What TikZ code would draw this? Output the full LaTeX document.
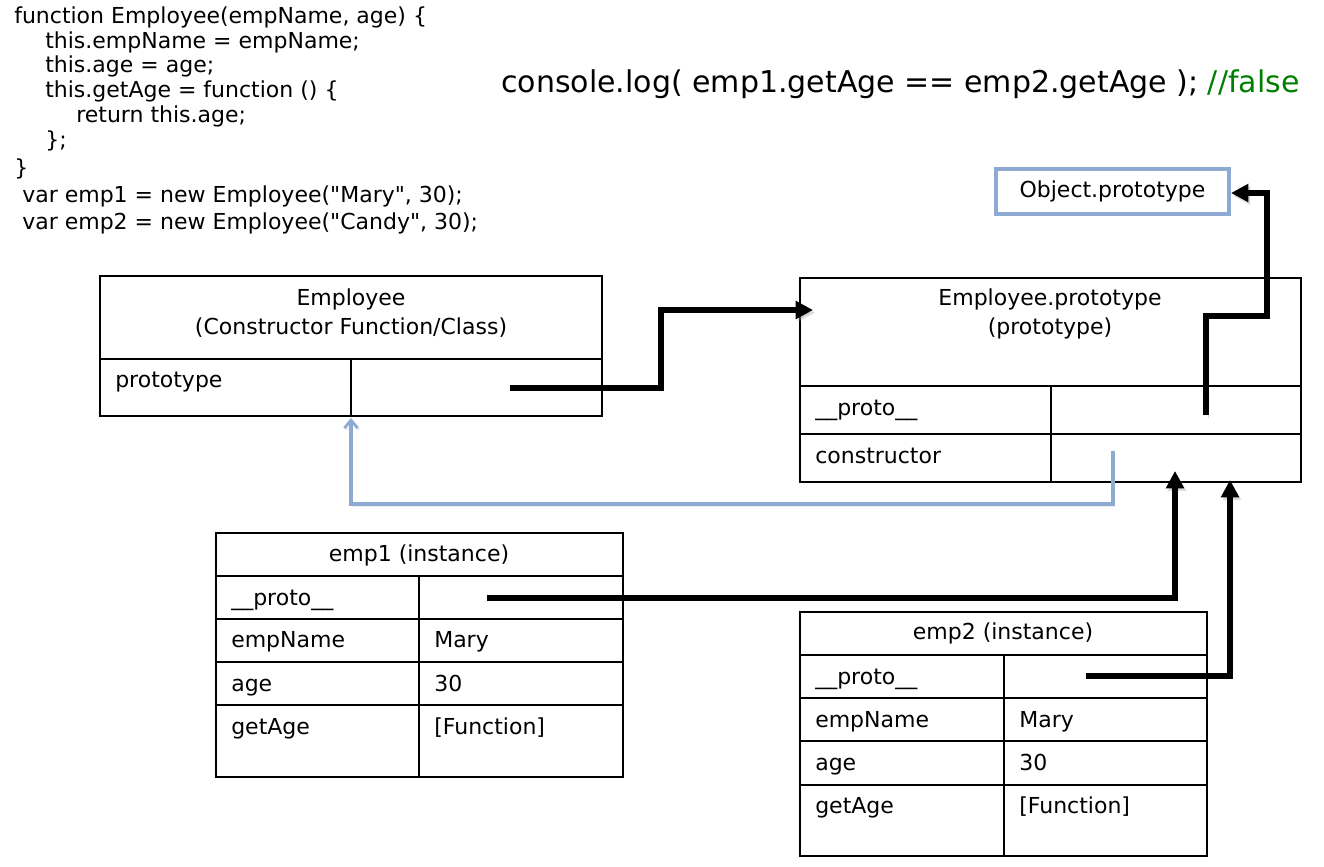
\documentclass[tikz,border=0pt]{standalone}
\usepackage{fontspec}
\setmainfont{DejaVu Sans}[Ligatures=TeXOff]
\usetikzlibrary{fit,arrows.meta}
\definecolor{lblue}{RGB}{142,170,210}
\definecolor{jsgreen}{RGB}{0,128,0}
\begin{document}
\begin{tikzpicture}[x=0.75pt,y=-0.75pt,
  txt/.style={inner sep=0pt, font=\fontsize{16.5}{19}\selectfont, text height=12pt, text depth=3.5pt},
  code/.style={txt, anchor=west},
  cell/.style={draw, line width=1.1pt, inner sep=0pt},
  objbox/.style={draw=lblue, line width=2.3pt, inner sep=0pt},
  blk/.style={line width=3.8pt, -{Triangle[length=13pt,width=13pt]},
    preaction={draw=black!40, opacity=0.35, transform canvas={shift={(1.5pt,-2pt)}}}},
  blu/.style={draw=lblue, line width=2.3pt, -{Straight Barb[length=6pt,width=10pt,line width=2pt]},
    preaction={draw=black!30, opacity=0.25, transform canvas={shift={(1pt,-1.5pt)}}}}
]
\useasboundingbox (0,0) rectangle (1324,867);

% code
\node[code] (c1) at (14,18) {function Employee(empName, age) \{};
\node[code] (c2) at (45,43) {this.empName = empName;};
\node[code] (c3) at (45,67) {this.age = age;};
\node[code] (c4) at (45,92) {this.getAge = function () \{};
\node[code] (c5) at (76,117) {return this.age;};
\node[code] (c6) at (45,142) {\};};
\node[code] (c7) at (14,170) {\}};
\node[code] (c8) at (22,197) {var emp1 = new Employee("Mary", 30);};
\node[code] (c9) at (22,224) {var emp2 = new Employee("Candy", 30);};

\node[inner sep=0pt, anchor=west, font=\fontsize{22.5}{26}\selectfont, text height=16pt, text depth=5pt] (cons) at (501,85)
  {console.log( emp1.getAge == emp2.getAge ); \textcolor{jsgreen}{//false}};

% Object.prototype
\node[objbox, fit={(996,169)(1229,214)}] (obj) {};
\node[txt] (objt) at (obj.center) {Object.prototype};

% Employee constructor
\node[cell, fit={(100,276)(602,359)}] (emph) {};
\node[cell, fit={(100,359)(351,416)}] (empl) {};
\node[cell, fit={(351,359)(602,416)}] (empr) {};
\node[txt] (empt1) at (351,300) {Employee};
\node[txt] (empt2) at (351,329) {(Constructor Function/Class)};
\node[code] (empp) at (115,382) {prototype};

% Employee.prototype
\node[cell, fit={(800,278)(1301,386)}] (proh) {};
\node[cell, fit={(800,386)(1051,434)}] (pro1l) {};
\node[cell, fit={(1051,386)(1301,434)}] (pro1r) {};
\node[cell, fit={(800,434)(1051,482)}] (pro2l) {};
\node[cell, fit={(1051,434)(1301,482)}] (pro2r) {};
\node[txt] (prot1) at (1050,300) {Employee.prototype};
\node[txt] (prot2) at (1050,329) {(prototype)};
\node[code] (prop1) at (815,410) {\_\_proto\_\_};
\node[code] (prop2) at (815,458) {constructor};

% emp1
\node[cell, fit={(216,533)(623,576)}] (e1h) {};
\node[cell, fit={(216,576)(419,619)}] (e1a) {};
\node[cell, fit={(419,576)(623,619)}] (e1b) {};
\node[cell, fit={(216,619)(419,662)}] (e1c) {};
\node[cell, fit={(419,619)(623,662)}] (e1d) {};
\node[cell, fit={(216,662)(419,705)}] (e1e) {};
\node[cell, fit={(419,662)(623,705)}] (e1f) {};
\node[cell, fit={(216,705)(419,777)}] (e1g) {};
\node[cell, fit={(419,705)(623,777)}] (e1i) {};
\node[txt] (e1t) at (419,556) {emp1 (instance)};
\node[code] (e1l1) at (231,600) {\_\_proto\_\_};
\node[code] (e1l2) at (231,642) {empName};
\node[code] (e1l3) at (231,686) {age};
\node[code] (e1l4) at (231,729) {getAge};
\node[code] (e1v2) at (434,642) {Mary};
\node[code] (e1v3) at (434,686) {30};
\node[code] (e1v4) at (434,729) {[Function]};

% emp2
\node[cell, fit={(800,612)(1207,655)}] (e2h) {};
\node[cell, fit={(800,655)(1004,698)}] (e2a) {};
\node[cell, fit={(1004,655)(1207,698)}] (e2b) {};
\node[cell, fit={(800,698)(1004,741)}] (e2c) {};
\node[cell, fit={(1004,698)(1207,741)}] (e2d) {};
\node[cell, fit={(800,741)(1004,785)}] (e2e) {};
\node[cell, fit={(1004,741)(1207,785)}] (e2f) {};
\node[cell, fit={(800,785)(1004,856)}] (e2g) {};
\node[cell, fit={(1004,785)(1207,856)}] (e2i) {};
\node[txt] (e2t) at (1003,634) {emp2 (instance)};
\node[code] (e2l1) at (815,679) {\_\_proto\_\_};
\node[code] (e2l2) at (815,722) {empName};
\node[code] (e2l3) at (815,765) {age};
\node[code] (e2l4) at (815,808) {getAge};
\node[code] (e2v2) at (1019,722) {Mary};
\node[code] (e2v3) at (1019,765) {30};
\node[code] (e2v4) at (1019,808) {[Function]};

% connector end points
\coordinate (s1) at (510,388);
\coordinate (t1) at (813,310);
\coordinate (s2) at (1206,415);
\coordinate (t2) at (1231,193);
\coordinate (s3) at (487,598);
\coordinate (t3) at (1175,471);
\coordinate (s4) at (1086,676);
\coordinate (t4) at (1230,480);
\coordinate (s5) at (1113,451);
\coordinate (t5) at (351,418);

\draw[blk] (s1) -- ++(151,0) |- (t1);
\draw[blk] (s2) -- ++(0,-99) -| ++(61,-123) -- (t2);
\draw[blk] (s3) -| (t3);
\draw[blk] (s4) -| (t4);
\draw[blu] (s5) -- ++(0,53) -| (t5);
\end{tikzpicture}
\end{document}
